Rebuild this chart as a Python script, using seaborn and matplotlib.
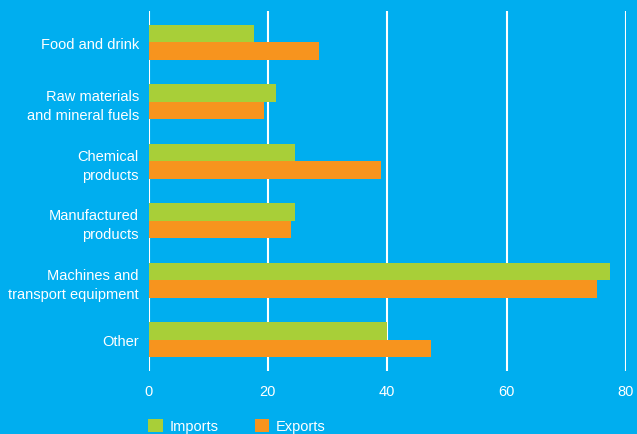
import matplotlib
matplotlib.use("Agg")
import matplotlib.pyplot as plt
import seaborn as sns
import pandas as pd

categories = ["Food and drink", "Raw materials\nand mineral fuels", "Chemical\nproducts",
              "Manufactured\nproducts", "Machines and\ntransport equipment", "Other"]
imports = [17.6, 21.3, 24.6, 24.5, 77.3, 40.0]
exports = [28.6, 19.3, 38.9, 23.8, 75.1, 47.4]
series = ["Imports", "Exports"]
xticks = [0, 20, 40, 60, 80]

BG = "#00AEEF"
GREEN = "#A8CF38"
ORANGE = "#F7941E"

df = pd.DataFrame({
    "category": categories * 2,
    "value": imports + exports,
    "series": [series[0]] * len(categories) + [series[1]] * len(categories),
})

sns.set_theme(style="white")
plt.rcParams["font.family"] = ["Liberation Sans Narrow", "Liberation Sans", "DejaVu Sans"]

fig = plt.figure(figsize=(6.37, 4.35), dpi=100, facecolor=BG)
ax = fig.add_axes([148.5 / 637, 1 - 372 / 435, (626 - 148.5) / 637, (372 - 12) / 435])
ax.set_facecolor(BG)

sns.barplot(data=df, y="category", x="value", hue="series", orient="h",
            palette=[GREEN, ORANGE], width=0.59, saturation=1, ax=ax,
            order=categories, hue_order=series, linewidth=0)

ax.set_xlim(0, 80)
ax.set_ylim(5.53, -0.53)
ax.set_xticks(xticks)
ax.set_xticklabels([str(t) for t in xticks])
for t in xticks:
    ax.axvline(t, color="white", lw=1.5, zorder=0)
ax.set_axisbelow(True)
for s in ax.spines.values():
    s.set_visible(False)
ax.set_xlabel("")
ax.set_ylabel("")
ax.tick_params(axis="x", length=0, pad=9, colors="white", labelsize=10.5)
ax.tick_params(axis="y", length=0, pad=7, colors="white", labelsize=10.5)
for lab in ax.get_yticklabels():
    lab.set_horizontalalignment("right")
    lab.set_multialignment("right")
    lab.set_linespacing(1.45)

handles, labels = ax.get_legend_handles_labels()
ax.get_legend().remove()
fig.legend(handles, labels, loc="center left", bbox_to_anchor=(148 / 637, 1 - 427 / 435),
           ncol=2, frameon=False, handlelength=1.0, handleheight=1.0,
           handletextpad=0.45, columnspacing=2.5, borderpad=0, borderaxespad=0,
           labelcolor="white", fontsize=10.5)

fig.savefig("out.png", dpi=100, facecolor=BG)
